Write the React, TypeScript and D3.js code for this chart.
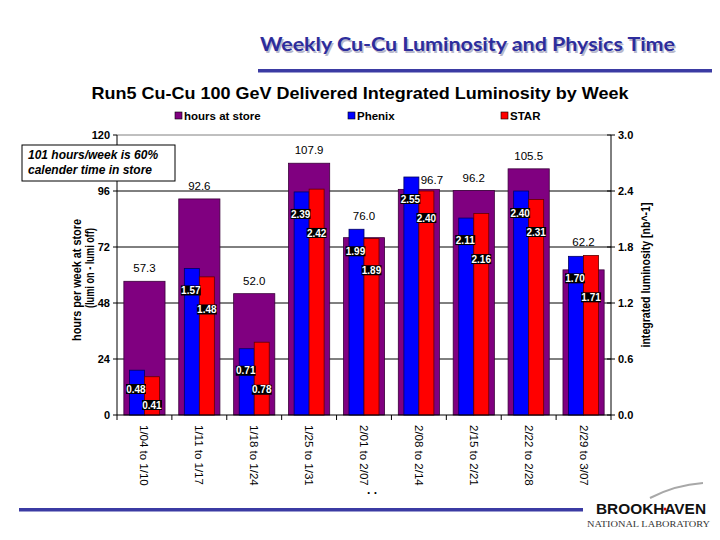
import React from "react";
import * as d3 from "d3";

const weeks = [
  "1/04 to 1/10",
  "1/11 to 1/17",
  "1/18 to 1/24",
  "1/25 to 1/31",
  "2/01 to 2/07",
  "2/08 to 2/14",
  "2/15 to 2/21",
  "2/22 to 2/28",
  "2/29 to 3/07",
];
const hoursAtStore = [57.3, 92.6, 52.0, 107.9, 76.0, 96.7, 96.2, 105.5, 62.2];
const phenixLumi = [0.48, 1.57, 0.71, 2.39, 1.99, 2.55, 2.11, 2.4, 1.7];
const starLumi = [0.41, 1.48, 0.78, 2.42, 1.89, 2.4, 2.16, 2.31, 1.71];
const hoursTicks = [0, 24, 48, 72, 96, 120];
const lumiTicks = [0, 0.6, 1.2, 1.8, 2.4, 3.0];
const seriesNames = ["hours at store", "Phenix", "STAR"];
const seriesColors = ["#800080", "#0000ff", "#ff0000"];

const NARROW = "'Liberation Sans Narrow', 'Arial Narrow', 'Liberation Sans', Arial, sans-serif";
const SANS = "'Liberation Sans', Arial, sans-serif";

export default function App() {
  const W = 720;
  const H = 540;
  const left = 117;
  const right = 611;
  const top = 135;
  const bottom = 415;

  const x = d3.scaleBand<string>().domain(weeks).range([left, right]).paddingInner(0.25).paddingOuter(0.125);
  const step = x.step();
  const yH = d3.scaleLinear().domain([0, 120]).range([bottom, top]);
  const yL = d3.scaleLinear().domain([0, 3]).range([bottom, top]);
  const sub = (c: number) => d3.scaleBand<string>().domain(["p", "s"]).range([c - 15, c + 15]);

  const fmtH = d3.format(".1f");
  const fmtL = d3.format(".2f");

  const valueLabel = (cx: number, cy: number, txt: string, key: string) => {
    const w = 20;
    const h = 10;
    return (
      <g key={key}>
        <rect x={cx - w / 2} y={cy - h / 2} width={w} height={h} fill="#000" />
        <text x={cx} y={cy + 3.6} textAnchor="middle" fill="#fff" fontFamily={SANS} fontWeight="bold" fontSize={10}>
          {txt}
        </text>
      </g>
    );
  };

  return (
    <svg width={W} height={H} style={{ position: "absolute", left: 0, top: 0, background: "#fff" }}>
      <rect x={0} y={0} width={W} height={H} fill="#fff" />

      {/* Slide title */}
      <text x={260 + 1.5} y={51 + 1.5} fontFamily="Lato, 'Open Sans', sans-serif" fontWeight="bold" fontSize={18} fill="#b8b8cc" textLength={415} lengthAdjust="spacingAndGlyphs">
        Weekly Cu-Cu Luminosity and Physics Time
      </text>
      <text x={260} y={51} fontFamily="Lato, 'Open Sans', sans-serif" fontWeight="bold" fontSize={18} fill="#2d2d9c" textLength={415} lengthAdjust="spacingAndGlyphs">
        Weekly Cu-Cu Luminosity and Physics Time
      </text>
      <rect x={258} y={69} width={454} height={3.5} fill="#3b3ba3" />

      {/* Chart title */}
      <text x={360} y={99} textAnchor="middle" fontFamily={SANS} fontWeight="bold" fontSize={16.5} fill="#000" textLength={537} lengthAdjust="spacingAndGlyphs">
        Run5 Cu-Cu 100 GeV Delivered Integrated Luminosity by Week
      </text>

      {/* Legend */}
      {[175, 348, 501].map((lx, i) => (
        <g key={"lg" + i}>
          <rect x={lx} y={112} width={7} height={7} fill={seriesColors[i]} stroke="#000" strokeWidth={0.6} />
          <text x={lx + 9} y={119.5} fontFamily={NARROW} fontWeight="bold" fontSize={11.5} fill="#000">
            {seriesNames[i]}
          </text>
        </g>
      ))}

      {/* Gridlines */}
      {hoursTicks.filter((t) => t > 0).map((t) => (
        <line key={"g" + t} x1={left} x2={right} y1={yH(t)} y2={yH(t)} stroke={t === 120 ? "#808080" : "#000"} strokeWidth={1} />
      ))}

      {/* Hours bars */}
      {weeks.map((w, i) => (
        <rect key={"h" + i} x={x(w)!} y={yH(hoursAtStore[i])} width={x.bandwidth()} height={bottom - yH(hoursAtStore[i])} fill={seriesColors[0]} stroke="#3a003a" strokeWidth={0.8} />
      ))}

      {/* Luminosity bars */}
      {weeks.map((w, i) => {
        const c = x(w)! + x.bandwidth() / 2;
        const s = sub(c);
        return (
          <g key={"l" + i}>
            <rect x={s("p")!} y={yL(phenixLumi[i])} width={s.bandwidth()} height={bottom - yL(phenixLumi[i])} fill={seriesColors[1]} stroke="#000060" strokeWidth={0.8} />
            <rect x={s("s")!} y={yL(starLumi[i])} width={s.bandwidth()} height={bottom - yL(starLumi[i])} fill={seriesColors[2]} stroke="#600000" strokeWidth={0.8} />
          </g>
        );
      })}

      {/* Axes */}
      <line x1={left} x2={left} y1={top} y2={bottom} stroke="#000" />
      <line x1={right} x2={right} y1={top} y2={bottom} stroke="#000" />
      <line x1={left} x2={right} y1={bottom} y2={bottom} stroke="#000" />
      {hoursTicks.map((t) => (
        <g key={"lt" + t}>
          <line x1={left - 4} x2={left} y1={yH(t)} y2={yH(t)} stroke="#000" />
          <text x={left - 7} y={yH(t) + 4} textAnchor="end" fontFamily={NARROW} fontWeight="bold" fontSize={11} fill="#000">
            {t}
          </text>
        </g>
      ))}
      {lumiTicks.map((t) => (
        <g key={"rt" + t}>
          <line x1={right - 4} x2={right + 4} y1={yL(t)} y2={yL(t)} stroke="#000" />
          <text x={right + 7} y={yL(t) + 4} fontFamily={NARROW} fontWeight="bold" fontSize={11} fill="#000">
            {t.toFixed(1)}
          </text>
        </g>
      ))}
      {d3.range(weeks.length + 1).map((k) => (
        <line key={"xt" + k} x1={left + k * step} x2={left + k * step} y1={bottom} y2={bottom + 5} stroke="#000" />
      ))}
      {weeks.map((w) => {
        const c = x(w)! + x.bandwidth() / 2;
        return (
          <text key={"xl" + w} transform={`translate(${c - 4},${425}) rotate(90)`} fontFamily={NARROW} fontSize={11.5} fill="#000">
            {w}
          </text>
        );
      })}
      <text x={372} y={494} textAnchor="middle" fontFamily={SANS} fontSize={12} fontWeight="bold" fill="#000">
        .  .
      </text>

      {/* Axis titles */}
      <text transform={`translate(81,280) rotate(-90)`} textAnchor="middle" fontFamily={NARROW} fontWeight="bold" fontSize={12} fill="#000" textLength={122} lengthAdjust="spacingAndGlyphs">
        hours per week at store
      </text>
      <text transform={`translate(94,268) rotate(-90)`} textAnchor="middle" fontFamily={NARROW} fontWeight="bold" fontSize={12} fill="#000" textLength={80} lengthAdjust="spacingAndGlyphs">
        (lumi on - lumi off)
      </text>
      <text transform={`translate(650,275) rotate(-90)`} textAnchor="middle" fontFamily={NARROW} fontWeight="bold" fontSize={12} fill="#000" textLength={145} lengthAdjust="spacingAndGlyphs">
        integrated luminosity [nb^-1]
      </text>

      {/* Hours labels */}
      {weeks.map((w, i) => {
        const c = x(w)! + x.bandwidth() / 2;
        const topMost = Math.min(yH(hoursAtStore[i]), yL(phenixLumi[i]), yL(starLumi[i]));
        const crowded = i === 5;
        const lx = crowded ? c + 13 : c;
        const ly = crowded ? yH(hoursAtStore[i]) - 5 : topMost - 9;
        return (
          <text key={"hl" + i} x={lx} y={ly} textAnchor="middle" fontFamily={NARROW} fontSize={11.5} fill="#000">
            {fmtH(hoursAtStore[i])}
          </text>
        );
      })}

      {/* Lumi value labels */}
      {weeks.map((w, i) => {
        const c = x(w)! + x.bandwidth() / 2;
        const s = sub(c);
        const by = yL(phenixLumi[i]) + 22;
        const ry = Math.min(by + 19, bottom - 10);
        const byy = Math.min(by, ry - 16);
        return (
          <g key={"vl" + i}>
            {valueLabel(s("p")! + s.bandwidth() / 2 - 1, byy, fmtL(phenixLumi[i]), "p" + i)}
            {valueLabel(s("s")! + s.bandwidth() / 2, ry, fmtL(starLumi[i]), "s" + i)}
          </g>
        );
      })}

      {/* Annotation */}
      <rect x={22} y={145} width={153} height={36} fill="#fff" stroke="#000" strokeWidth={1} />
      <text x={28} y={159} fontFamily={SANS} fontWeight="bold" fontStyle="italic" fontSize={12} fill="#000">
        101 hours/week is 60%
      </text>
      <text x={28} y={174} fontFamily={SANS} fontWeight="bold" fontStyle="italic" fontSize={12} fill="#000">
        calender time in store
      </text>

      {/* Bottom rule and logo */}
      <rect x={19} y={508} width={564} height={3.5} fill="#3b3ba3" />
      <path d="M650,498 Q675,485 703,483" fill="none" stroke="#a8a8a8" strokeWidth={2} />
      <text x={596} y={514} fontFamily={SANS} fontWeight="900" fontSize={14.5} fill="#111" textLength={110} lengthAdjust="spacingAndGlyphs">
        BROOKHAVEN
      </text>
      <circle cx={665} cy={509} r={1.5} fill="#c00" />
      <text x={587} y={527} fontFamily="'Liberation Serif', serif" fontSize={8.5} fill="#333" textLength={123} lengthAdjust="spacingAndGlyphs">
        NATIONAL LABORATORY
      </text>
    </svg>
  );
}
